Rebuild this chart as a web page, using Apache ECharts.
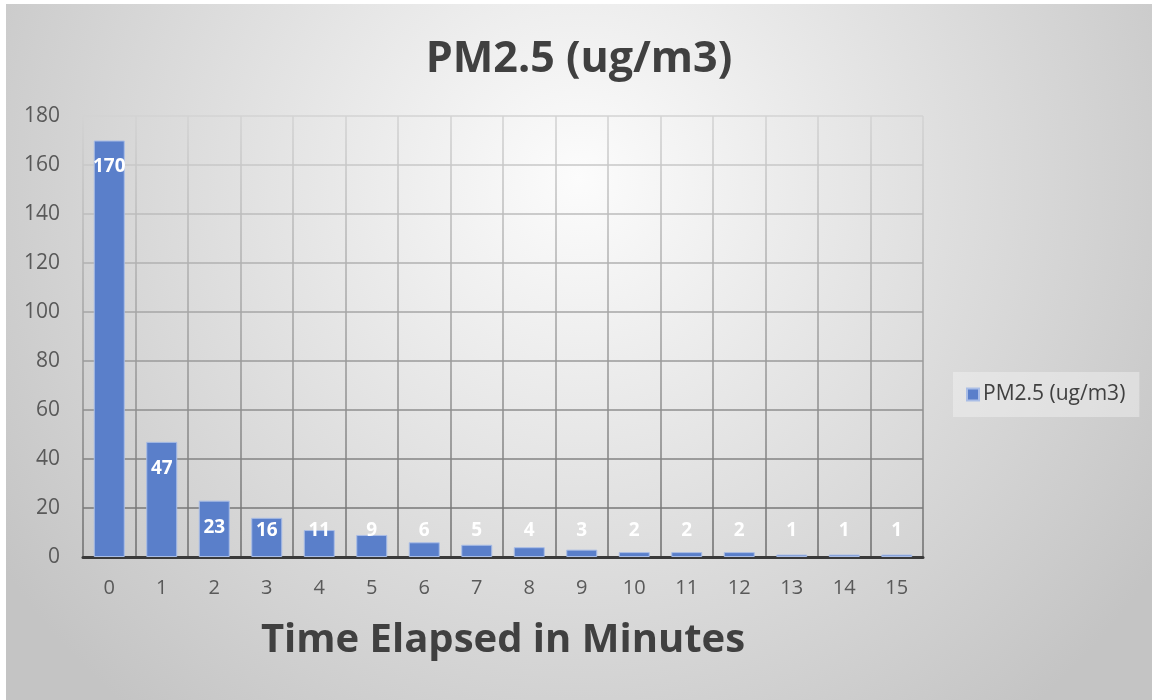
<!DOCTYPE html>
<html>
<head>
<meta charset="utf-8">
<title>PM2.5 (ug/m3)</title>
<script src="https://cdn.jsdelivr.net/npm/echarts@6/dist/echarts.min.js"></script>
<style>
  html, body { margin: 0; padding: 0; background: #fff; }
  #main { position: absolute; left: 6px; top: 4px; width: 1146px; height: 696px; }
</style>
</head>
<body>
<div id="main"></div>
<script>
// 数据
const minutes = ['0', '1', '2', '3', '4', '5', '6', '7', '8', '9', '10', '11', '12', '13', '14', '15'];
const pm25 = [170, 47, 23, 16, 11, 9, 6, 5, 4, 3, 2, 2, 2, 1, 1, 1];
const yTicks = { min: 0, max: 180, interval: 20 };

const font = '"Open Sans", "Noto Sans", sans-serif';

// 网格线颜色：上浅下深
const gridLineColor = {
    type: 'linear', x: 0, y: 112, x2: 0, y2: 553, global: true,
    colorStops: [
        { offset: 0, color: '#d3d3d3' },
        { offset: 1, color: '#6c6c6c' }
    ]
};

// 小柱子标签放到底部
const barData = pm25.map(v => ({
    value: v,
    label: v >= 20
        ? { position: 'insideTop', distance: 17 }
        : { position: 'insideBottom', distance: 17 }
}));

const myChart = echarts.init(document.getElementById('main'));

const option = {
    backgroundColor: {
        type: 'radial', x: 0.5, y: 0.25, r: 1.0,
        colorStops: [
            { offset: 0, color: '#fcfcfc' },
            { offset: 1, color: '#c4c4c4' }
        ]
    },
    textStyle: { fontFamily: font },
    title: {
        text: 'PM2.5 (ug/m3)',
        left: 'center',
        top: 29,
        textStyle: { fontSize: 43, fontWeight: 'bold', color: '#404040', fontFamily: font }
    },
    legend: {
        left: 947,
        top: 368,
        orient: 'vertical',
        backgroundColor: 'rgba(245,245,245,0.45)',
        padding: [12, 14, 12, 13],
        itemWidth: 12,
        itemHeight: 12,
        itemGap: 6,
        icon: 'rect',
        textStyle: { fontSize: 21, color: '#404040', fontFamily: font, padding: [0, 0, 0, -1] },
        data: ['PM2.5 (ug/m3)']
    },
    grid: { left: 77, top: 112, right: 229, bottom: 143 },
    xAxis: {
        type: 'category',
        data: minutes,
        name: 'Time Elapsed in Minutes',
        nameLocation: 'middle',
        nameGap: 64,
        nameTextStyle: { fontSize: 40, fontWeight: 'bold', color: '#404040', fontFamily: font },
        axisLine: { show: true, lineStyle: { color: '#3a3a3a', width: 3 } },
        axisTick: { show: false },
        axisLabel: { fontSize: 20, color: '#595959', margin: 21, fontFamily: font },
        splitLine: { show: true, interval: 0, lineStyle: { color: gridLineColor, width: 1.5 } }
    },
    yAxis: {
        type: 'value',
        min: yTicks.min,
        max: yTicks.max,
        interval: yTicks.interval,
        axisLine: { show: false },
        axisTick: { show: false },
        axisLabel: { fontSize: 21, color: '#595959', margin: 23, fontFamily: font },
        splitLine: { show: true, lineStyle: { color: gridLineColor, width: 1.5 } }
    },
    series: [{
        name: 'PM2.5 (ug/m3)',
        type: 'bar',
        data: barData,
        barWidth: 31,
        itemStyle: { color: '#5a7fca', borderColor: '#a9bde6', borderWidth: 1 },
        label: {
            show: true,
            color: '#ffffff',
            fontSize: 19,
            fontWeight: 'bold',
            fontFamily: font
        }
    }]
};

myChart.setOption(option);
</script>
</body>
</html>
